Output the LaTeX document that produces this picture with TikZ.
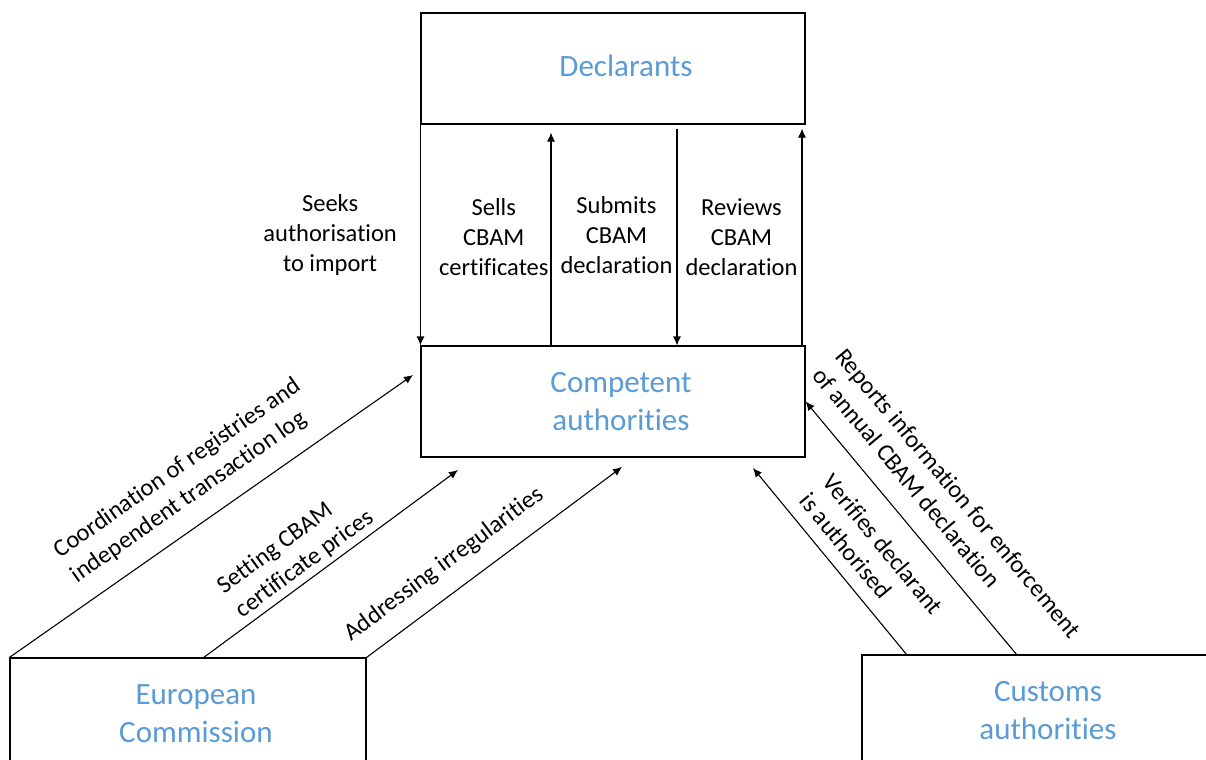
\documentclass[tikz,border=0pt]{standalone}
\usepackage{fontspec}
\setmainfont{Carlito}[Ligatures=NoCommon]
\usetikzlibrary{arrows.meta,calc}
\definecolor{boxblue}{RGB}{91,155,213}
\begin{document}
\begin{tikzpicture}[x=1bp,y=-1bp,
  box/.style={draw, line width=1.1bp, inner sep=0, minimum width=#1},
  boxtext/.style={font=\fontsize{31bp}{38bp}\selectfont, text=boxblue, align=center},
  arr/.style={draw, line width=1.1bp, -{Latex[length=9bp,width=8bp]}},
  lab/.style={font=\fontsize{24.5bp}{30bp}\selectfont, align=center, text=black, inner sep=3bp},
  slab/.style={lab, align=left, sloped, above, inner xsep=0bp, inner ysep=#1}]
\useasboundingbox (0,0) rectangle (1206,760);
\fill[white] (0,0) rectangle (1206,760);
\clip (0,0) rectangle (1206,760);

% boxes
\node[box=384bp, minimum height=111bp,
      label={[boxtext, xshift=13bp, yshift=3bp]center:Declarants}] (dec) at (613,68.5) {};
\node[box=384bp, minimum height=111bp,
      label={[boxtext, xshift=8bp]center:Competent\\authorities}] (comp) at (613,401.5) {};
\node[box=356bp, minimum height=132bp,
      label={[boxtext, xshift=8bp, yshift=10bp]center:European\\Commission}] (ec) at (188,724) {};
\node[box=372bp, minimum height=135bp,
      label={[boxtext, yshift=12bp]center:Customs\\authorities}] (cu) at (1048,722.5) {};

% helper coordinates
\coordinate (xs) at (551,0);
\coordinate (xd) at (677,0);
\coordinate (xr) at (802,0);
\coordinate (setfrom) at (203,658);
\coordinate (verfrom) at (907,655);
\coordinate (repfrom) at (1017,655);
\coordinate (tcoord) at (413,375);
\coordinate (tset) at (458,470);
\coordinate (tadd) at (622,467);
\coordinate (tver) at (753,468);

% vertical connectors
\draw[arr] (dec.south west) -- node[lab, midway, left, xshift=-20bp]{Seeks\\authorisation\\to import} (comp.north west);
\draw[arr, shorten >=8bp] (comp.north -| xs) -- node[lab, pos=0.49, left, inner sep=2bp]{Sells\\CBAM\\certificates} (dec.south -| xs);
\draw[arr, shorten <=4bp] (dec.south -| xd) -- node[lab, pos=0.5, left, inner sep=4bp]{Submits\\CBAM\\declaration} (comp.north -| xd);
\draw[arr, shorten >=4bp] (comp.north -| xr) -- node[lab, pos=0.49, left, inner sep=4bp]{Reviews\\CBAM\\declaration} (dec.south -| xr);

% diagonal connectors
\draw[arr] (ec.north west) -- node[slab=17bp, pos=0.5]{Coordination of registries and\\independent transaction log} (tcoord);
\draw[arr] (setfrom) -- node[slab=4bp, pos=0.435]{Setting CBAM\\certificate prices} (tset);
\draw[arr] (ec.north east) -- node[slab=17bp, pos=0.37]{Addressing irregularities} (tadd);
\draw[arr] (verfrom) -- node[slab=13bp, pos=0.415]{Verifies declarant\\is authorised} (tver);
\draw[arr] (repfrom) -- node[slab=20bp, pos=0.49]{Reports information for enforcement\\of annual CBAM declaration} (comp.east);
\end{tikzpicture}
\end{document}
